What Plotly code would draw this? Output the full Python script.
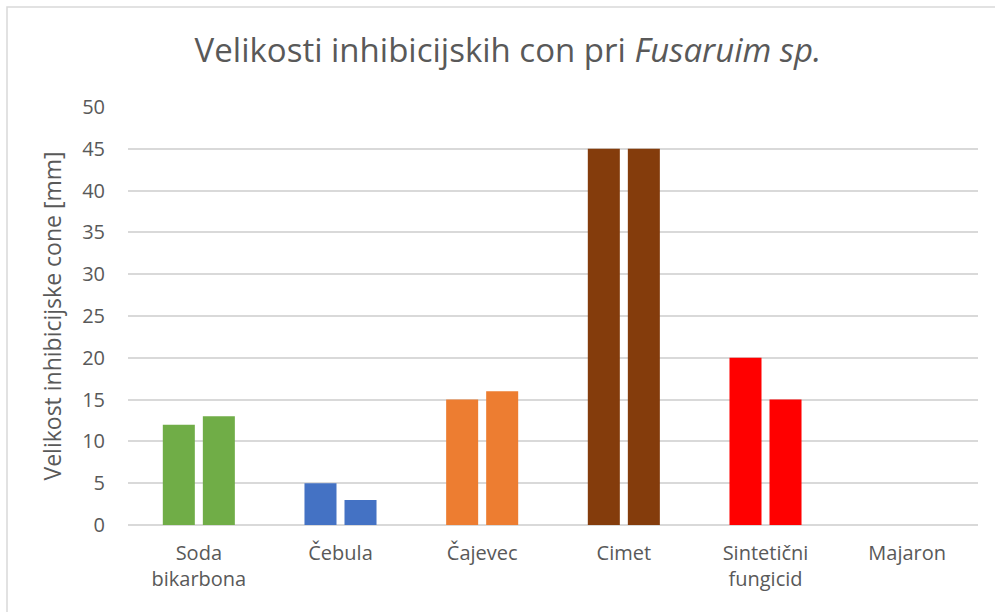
import plotly.graph_objects as go

# Inhibition zone sizes (mm) per treatment, two replicates each
categories = ["Soda<br>bikarbona", "Čebula", "Čajevec", "Cimet", "Sintetični<br>fungicid", "Majaron"]
replicate_1 = [12, 5, 15, 45, 20, 0]
replicate_2 = [13, 3, 16, 45, 15, 0]
bar_colors = ["#70AD47", "#4472C4", "#ED7D31", "#843C0C", "#FF0000", "#A5A5A5"]
y_ticks = [0, 5, 10, 15, 20, 25, 30, 35, 40, 45, 50]

W, H = 995, 612
M_L, M_R, M_T, M_B = 128, 17, 107, 87

fig = go.Figure()
for name, vals in [("Ponovitev 1", replicate_1), ("Ponovitev 2", replicate_2)]:
    fig.add_trace(go.Bar(
        x=categories, y=vals, name=name,
        marker=dict(color=bar_colors, line=dict(width=0)),
        hoverinfo="x+y",
    ))

font_family = "Open Sans, Noto Sans, sans-serif"
plot_w = W - M_L - M_R
plot_h = H - M_T - M_B

fig.update_layout(
    width=W, height=H,
    margin=dict(l=M_L, r=M_R, t=M_T, b=M_B),
    paper_bgcolor="white", plot_bgcolor="white",
    barmode="group", bargap=0.435, bargroupgap=0.2,
    showlegend=False,
    font=dict(family=font_family, color="#595959"),
    title=dict(
        text="Velikosti inhibicijskih con pri <i>Fusaruim sp.</i>",
        x=508 / W, xanchor="center", xref="container",
        y=1 - 50 / H, yanchor="middle", yref="container",
        font=dict(size=33, color="#595959", family=font_family),
    ),
    xaxis=dict(
        showgrid=False, showline=False, ticks="",
        tickfont=dict(size=20, color="#595959"),
        ticklabelstandoff=14,
    ),
    yaxis=dict(
        range=[0, 50], tickvals=y_ticks,
        showgrid=True, gridcolor="#D9D9D9", gridwidth=1.5,
        zeroline=True, zerolinecolor="#D9D9D9", zerolinewidth=1.5,
        showline=False, ticks="",
        tickfont=dict(size=20, color="#595959"),
        ticklabelstandoff=22,
        title=dict(text="Velikost inhibicijske cone [mm]",
                   font=dict(size=23, color="#595959"), standoff=14),
    ),
    shapes=[dict(
        type="rect", xref="paper", yref="paper",
        x0=(7 - M_L) / plot_w, x1=(1010 - M_L) / plot_w,
        y0=-(630 - (H - M_B)) / plot_h, y1=1 + (M_T - 7) / plot_h,
        line=dict(color="#D9D9D9", width=1.5), fillcolor="rgba(0,0,0,0)",
        layer="below",
    )],
)

fig.write_html("out.html")
